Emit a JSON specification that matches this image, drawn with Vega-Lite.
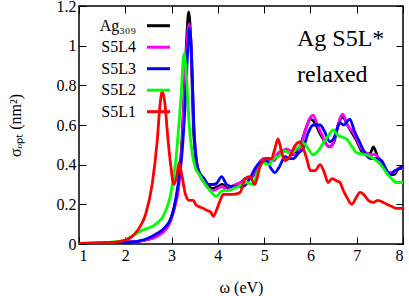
{
  "$schema": "https://vega.github.io/schema/vega-lite/v6.json",
  "width": 324,
  "height": 238,
  "autosize": {"type": "none"},
  "padding": {"left": 79, "top": 6, "right": 6, "bottom": 52},
  "background": "white",
  "config": {
    "view": {"stroke": "black", "strokeWidth": 1.5},
    "font": "Liberation Serif",
    "axis": {
      "grid": false, "domain": false, "ticks": true, "tickSize": -7, "tickColor": "black", "tickWidth": 1,
      "labelFont": "Liberation Serif", "labelFontSize": 16, "labelColor": "black",
      "titleFont": "Liberation Serif", "titleFontSize": 16, "titleFontWeight": "normal", "titleColor": "black"
    },
    "legend": {
      "labelFont": "Liberation Serif", "labelFontSize": 16, "labelColor": "black"
    }
  },
  "layer": [
    {
      "data": {"values": [
        {"c":"Ag309","w":1.0,"s":0.003},{"c":"Ag309","w":1.5,"s":0.005},{"c":"Ag309","w":2.0,"s":0.01},{"c":"Ag309","w":2.3,"s":0.015},{"c":"Ag309","w":2.6,"s":0.03},{"c":"Ag309","w":2.8,"s":0.06},{"c":"Ag309","w":2.95,"s":0.11},{"c":"Ag309","w":3.05,"s":0.18},{"c":"Ag309","w":3.15,"s":0.3},{"c":"Ag309","w":3.22,"s":0.5},{"c":"Ag309","w":3.28,"s":0.8},{"c":"Ag309","w":3.33,"s":1.05},{"c":"Ag309","w":3.37,"s":1.17},{"c":"Ag309","w":3.42,"s":1.0},{"c":"Ag309","w":3.47,"s":0.6},{"c":"Ag309","w":3.53,"s":0.42},{"c":"Ag309","w":3.6,"s":0.36},{"c":"Ag309","w":3.7,"s":0.33},{"c":"Ag309","w":3.8,"s":0.29},{"c":"Ag309","w":3.9,"s":0.28},{"c":"Ag309","w":4.0,"s":0.29},{"c":"Ag309","w":4.1,"s":0.3},{"c":"Ag309","w":4.2,"s":0.28},{"c":"Ag309","w":4.3,"s":0.29},{"c":"Ag309","w":4.4,"s":0.3},{"c":"Ag309","w":4.5,"s":0.31},{"c":"Ag309","w":4.6,"s":0.33},{"c":"Ag309","w":4.7,"s":0.33},{"c":"Ag309","w":4.8,"s":0.36},{"c":"Ag309","w":4.9,"s":0.41},{"c":"Ag309","w":5.0,"s":0.43},{"c":"Ag309","w":5.1,"s":0.43},{"c":"Ag309","w":5.2,"s":0.42},{"c":"Ag309","w":5.3,"s":0.45},{"c":"Ag309","w":5.4,"s":0.47},{"c":"Ag309","w":5.5,"s":0.47},{"c":"Ag309","w":5.6,"s":0.45},{"c":"Ag309","w":5.7,"s":0.46},{"c":"Ag309","w":5.8,"s":0.51},{"c":"Ag309","w":5.9,"s":0.58},{"c":"Ag309","w":6.0,"s":0.63},{"c":"Ag309","w":6.1,"s":0.61},{"c":"Ag309","w":6.2,"s":0.56},{"c":"Ag309","w":6.3,"s":0.52},{"c":"Ag309","w":6.4,"s":0.49},{"c":"Ag309","w":6.5,"s":0.51},{"c":"Ag309","w":6.6,"s":0.6},{"c":"Ag309","w":6.7,"s":0.64},{"c":"Ag309","w":6.8,"s":0.6},{"c":"Ag309","w":6.9,"s":0.56},{"c":"Ag309","w":7.0,"s":0.52},{"c":"Ag309","w":7.1,"s":0.47},{"c":"Ag309","w":7.2,"s":0.45},{"c":"Ag309","w":7.3,"s":0.46},{"c":"Ag309","w":7.36,"s":0.49},{"c":"Ag309","w":7.45,"s":0.44},{"c":"Ag309","w":7.6,"s":0.38},{"c":"Ag309","w":7.7,"s":0.35},{"c":"Ag309","w":7.8,"s":0.35},{"c":"Ag309","w":7.9,"s":0.38},{"c":"Ag309","w":8.0,"s":0.39},

        {"c":"S5L4","w":1.0,"s":0.003},{"c":"S5L4","w":2.0,"s":0.01},{"c":"S5L4","w":2.3,"s":0.015},{"c":"S5L4","w":2.6,"s":0.03},{"c":"S5L4","w":2.8,"s":0.055},{"c":"S5L4","w":2.95,"s":0.1},{"c":"S5L4","w":3.05,"s":0.17},{"c":"S5L4","w":3.15,"s":0.28},{"c":"S5L4","w":3.22,"s":0.47},{"c":"S5L4","w":3.28,"s":0.78},{"c":"S5L4","w":3.33,"s":1.0},{"c":"S5L4","w":3.38,"s":1.11},{"c":"S5L4","w":3.43,"s":0.95},{"c":"S5L4","w":3.48,"s":0.6},{"c":"S5L4","w":3.55,"s":0.4},{"c":"S5L4","w":3.62,"s":0.34},{"c":"S5L4","w":3.7,"s":0.31},{"c":"S5L4","w":3.8,"s":0.28},{"c":"S5L4","w":3.9,"s":0.27},{"c":"S5L4","w":4.0,"s":0.28},{"c":"S5L4","w":4.1,"s":0.29},{"c":"S5L4","w":4.2,"s":0.27},{"c":"S5L4","w":4.3,"s":0.29},{"c":"S5L4","w":4.4,"s":0.3},{"c":"S5L4","w":4.5,"s":0.31},{"c":"S5L4","w":4.6,"s":0.33},{"c":"S5L4","w":4.7,"s":0.33},{"c":"S5L4","w":4.8,"s":0.37},{"c":"S5L4","w":4.9,"s":0.41},{"c":"S5L4","w":5.0,"s":0.43},{"c":"S5L4","w":5.1,"s":0.42},{"c":"S5L4","w":5.2,"s":0.42},{"c":"S5L4","w":5.3,"s":0.46},{"c":"S5L4","w":5.4,"s":0.47},{"c":"S5L4","w":5.5,"s":0.48},{"c":"S5L4","w":5.6,"s":0.46},{"c":"S5L4","w":5.7,"s":0.45},{"c":"S5L4","w":5.8,"s":0.5},{"c":"S5L4","w":5.9,"s":0.58},{"c":"S5L4","w":6.0,"s":0.64},{"c":"S5L4","w":6.06,"s":0.65},{"c":"S5L4","w":6.15,"s":0.6},{"c":"S5L4","w":6.25,"s":0.55},{"c":"S5L4","w":6.35,"s":0.5},{"c":"S5L4","w":6.45,"s":0.49},{"c":"S5L4","w":6.55,"s":0.56},{"c":"S5L4","w":6.65,"s":0.64},{"c":"S5L4","w":6.7,"s":0.655},{"c":"S5L4","w":6.8,"s":0.6},{"c":"S5L4","w":6.9,"s":0.57},{"c":"S5L4","w":7.0,"s":0.53},{"c":"S5L4","w":7.1,"s":0.48},{"c":"S5L4","w":7.2,"s":0.46},{"c":"S5L4","w":7.3,"s":0.45},{"c":"S5L4","w":7.4,"s":0.45},{"c":"S5L4","w":7.5,"s":0.42},{"c":"S5L4","w":7.6,"s":0.38},{"c":"S5L4","w":7.7,"s":0.36},{"c":"S5L4","w":7.8,"s":0.36},{"c":"S5L4","w":7.9,"s":0.38},{"c":"S5L4","w":8.0,"s":0.38},

        {"c":"S5L3","w":1.0,"s":0.002},{"c":"S5L3","w":2.0,"s":0.008},{"c":"S5L3","w":2.3,"s":0.015},{"c":"S5L3","w":2.66,"s":0.05},{"c":"S5L3","w":2.87,"s":0.086},{"c":"S5L3","w":3.02,"s":0.15},{"c":"S5L3","w":3.12,"s":0.27},{"c":"S5L3","w":3.23,"s":0.47},{"c":"S5L3","w":3.3,"s":0.73},{"c":"S5L3","w":3.35,"s":0.98},{"c":"S5L3","w":3.39,"s":1.09},{"c":"S5L3","w":3.44,"s":0.9},{"c":"S5L3","w":3.48,"s":0.6},{"c":"S5L3","w":3.55,"s":0.4},{"c":"S5L3","w":3.6,"s":0.36},{"c":"S5L3","w":3.7,"s":0.33},{"c":"S5L3","w":3.8,"s":0.3},{"c":"S5L3","w":3.9,"s":0.3},{"c":"S5L3","w":3.97,"s":0.305},{"c":"S5L3","w":4.08,"s":0.34},{"c":"S5L3","w":4.19,"s":0.3},{"c":"S5L3","w":4.3,"s":0.29},{"c":"S5L3","w":4.45,"s":0.29},{"c":"S5L3","w":4.55,"s":0.29},{"c":"S5L3","w":4.69,"s":0.33},{"c":"S5L3","w":4.8,"s":0.38},{"c":"S5L3","w":4.91,"s":0.41},{"c":"S5L3","w":5.05,"s":0.42},{"c":"S5L3","w":5.15,"s":0.38},{"c":"S5L3","w":5.23,"s":0.36},{"c":"S5L3","w":5.33,"s":0.39},{"c":"S5L3","w":5.45,"s":0.44},{"c":"S5L3","w":5.55,"s":0.43},{"c":"S5L3","w":5.63,"s":0.43},{"c":"S5L3","w":5.75,"s":0.46},{"c":"S5L3","w":5.84,"s":0.48},{"c":"S5L3","w":5.95,"s":0.56},{"c":"S5L3","w":6.06,"s":0.6},{"c":"S5L3","w":6.21,"s":0.6},{"c":"S5L3","w":6.3,"s":0.57},{"c":"S5L3","w":6.42,"s":0.515},{"c":"S5L3","w":6.5,"s":0.53},{"c":"S5L3","w":6.64,"s":0.61},{"c":"S5L3","w":6.72,"s":0.6},{"c":"S5L3","w":6.85,"s":0.63},{"c":"S5L3","w":6.95,"s":0.57},{"c":"S5L3","w":7.07,"s":0.51},{"c":"S5L3","w":7.2,"s":0.45},{"c":"S5L3","w":7.32,"s":0.43},{"c":"S5L3","w":7.45,"s":0.43},{"c":"S5L3","w":7.54,"s":0.42},{"c":"S5L3","w":7.63,"s":0.38},{"c":"S5L3","w":7.72,"s":0.35},{"c":"S5L3","w":7.82,"s":0.37},{"c":"S5L3","w":7.93,"s":0.38},{"c":"S5L3","w":8.0,"s":0.39},

        {"c":"S5L2","w":1.0,"s":0.003},{"c":"S5L2","w":1.5,"s":0.006},{"c":"S5L2","w":2.0,"s":0.02},{"c":"S5L2","w":2.08,"s":0.03},{"c":"S5L2","w":2.37,"s":0.07},{"c":"S5L2","w":2.5,"s":0.08},{"c":"S5L2","w":2.66,"s":0.1},{"c":"S5L2","w":2.84,"s":0.15},{"c":"S5L2","w":2.98,"s":0.25},{"c":"S5L2","w":3.09,"s":0.42},{"c":"S5L2","w":3.2,"s":0.73},{"c":"S5L2","w":3.27,"s":0.96},{"c":"S5L2","w":3.32,"s":0.85},{"c":"S5L2","w":3.38,"s":0.6},{"c":"S5L2","w":3.45,"s":0.45},{"c":"S5L2","w":3.52,"s":0.38},{"c":"S5L2","w":3.6,"s":0.35},{"c":"S5L2","w":3.7,"s":0.31},{"c":"S5L2","w":3.83,"s":0.27},{"c":"S5L2","w":3.97,"s":0.24},{"c":"S5L2","w":4.05,"s":0.26},{"c":"S5L2","w":4.12,"s":0.27},{"c":"S5L2","w":4.25,"s":0.27},{"c":"S5L2","w":4.33,"s":0.28},{"c":"S5L2","w":4.45,"s":0.29},{"c":"S5L2","w":4.62,"s":0.31},{"c":"S5L2","w":4.76,"s":0.3},{"c":"S5L2","w":4.85,"s":0.36},{"c":"S5L2","w":4.98,"s":0.41},{"c":"S5L2","w":5.1,"s":0.4},{"c":"S5L2","w":5.2,"s":0.43},{"c":"S5L2","w":5.3,"s":0.44},{"c":"S5L2","w":5.45,"s":0.47},{"c":"S5L2","w":5.55,"s":0.46},{"c":"S5L2","w":5.65,"s":0.47},{"c":"S5L2","w":5.75,"s":0.49},{"c":"S5L2","w":5.84,"s":0.51},{"c":"S5L2","w":5.95,"s":0.48},{"c":"S5L2","w":6.06,"s":0.45},{"c":"S5L2","w":6.17,"s":0.47},{"c":"S5L2","w":6.28,"s":0.51},{"c":"S5L2","w":6.4,"s":0.55},{"c":"S5L2","w":6.49,"s":0.575},{"c":"S5L2","w":6.58,"s":0.55},{"c":"S5L2","w":6.67,"s":0.54},{"c":"S5L2","w":6.78,"s":0.53},{"c":"S5L2","w":6.9,"s":0.49},{"c":"S5L2","w":7.0,"s":0.46},{"c":"S5L2","w":7.1,"s":0.455},{"c":"S5L2","w":7.2,"s":0.45},{"c":"S5L2","w":7.3,"s":0.44},{"c":"S5L2","w":7.43,"s":0.42},{"c":"S5L2","w":7.55,"s":0.39},{"c":"S5L2","w":7.64,"s":0.36},{"c":"S5L2","w":7.75,"s":0.33},{"c":"S5L2","w":7.86,"s":0.31},{"c":"S5L2","w":8.0,"s":0.31},

        {"c":"S5L1","w":1.0,"s":0.003},{"c":"S5L1","w":1.5,"s":0.006},{"c":"S5L1","w":1.8,"s":0.01},{"c":"S5L1","w":2.0,"s":0.02},{"c":"S5L1","w":2.1,"s":0.03},{"c":"S5L1","w":2.2,"s":0.05},{"c":"S5L1","w":2.3,"s":0.08},{"c":"S5L1","w":2.44,"s":0.15},{"c":"S5L1","w":2.58,"s":0.3},{"c":"S5L1","w":2.69,"s":0.52},{"c":"S5L1","w":2.75,"s":0.7},{"c":"S5L1","w":2.8,"s":0.77},{"c":"S5L1","w":2.86,"s":0.7},{"c":"S5L1","w":2.91,"s":0.56},{"c":"S5L1","w":2.98,"s":0.4},{"c":"S5L1","w":3.05,"s":0.3},{"c":"S5L1","w":3.11,"s":0.34},{"c":"S5L1","w":3.16,"s":0.41},{"c":"S5L1","w":3.22,"s":0.35},{"c":"S5L1","w":3.3,"s":0.25},{"c":"S5L1","w":3.38,"s":0.22},{"c":"S5L1","w":3.47,"s":0.22},{"c":"S5L1","w":3.52,"s":0.2},{"c":"S5L1","w":3.58,"s":0.19},{"c":"S5L1","w":3.68,"s":0.18},{"c":"S5L1","w":3.76,"s":0.17},{"c":"S5L1","w":3.85,"s":0.16},{"c":"S5L1","w":3.9,"s":0.14},{"c":"S5L1","w":3.97,"s":0.17},{"c":"S5L1","w":4.05,"s":0.22},{"c":"S5L1","w":4.12,"s":0.25},{"c":"S5L1","w":4.22,"s":0.25},{"c":"S5L1","w":4.33,"s":0.25},{"c":"S5L1","w":4.48,"s":0.26},{"c":"S5L1","w":4.59,"s":0.33},{"c":"S5L1","w":4.69,"s":0.34},{"c":"S5L1","w":4.8,"s":0.3},{"c":"S5L1","w":4.91,"s":0.39},{"c":"S5L1","w":5.05,"s":0.43},{"c":"S5L1","w":5.16,"s":0.43},{"c":"S5L1","w":5.22,"s":0.47},{"c":"S5L1","w":5.3,"s":0.53},{"c":"S5L1","w":5.37,"s":0.47},{"c":"S5L1","w":5.45,"s":0.42},{"c":"S5L1","w":5.55,"s":0.44},{"c":"S5L1","w":5.63,"s":0.48},{"c":"S5L1","w":5.72,"s":0.51},{"c":"S5L1","w":5.77,"s":0.515},{"c":"S5L1","w":5.85,"s":0.48},{"c":"S5L1","w":5.92,"s":0.43},{"c":"S5L1","w":6.0,"s":0.37},{"c":"S5L1","w":6.1,"s":0.37},{"c":"S5L1","w":6.21,"s":0.4},{"c":"S5L1","w":6.3,"s":0.36},{"c":"S5L1","w":6.38,"s":0.31},{"c":"S5L1","w":6.47,"s":0.33},{"c":"S5L1","w":6.55,"s":0.32},{"c":"S5L1","w":6.64,"s":0.31},{"c":"S5L1","w":6.71,"s":0.27},{"c":"S5L1","w":6.8,"s":0.23},{"c":"S5L1","w":6.89,"s":0.2},{"c":"S5L1","w":6.98,"s":0.23},{"c":"S5L1","w":7.07,"s":0.26},{"c":"S5L1","w":7.15,"s":0.25},{"c":"S5L1","w":7.25,"s":0.22},{"c":"S5L1","w":7.36,"s":0.21},{"c":"S5L1","w":7.46,"s":0.22},{"c":"S5L1","w":7.57,"s":0.21},{"c":"S5L1","w":7.65,"s":0.2},{"c":"S5L1","w":7.75,"s":0.19},{"c":"S5L1","w":7.85,"s":0.18},{"c":"S5L1","w":7.93,"s":0.18},{"c":"S5L1","w":8.0,"s":0.18}
      ]},
      "mark": {"type": "line", "strokeWidth": 2.8, "interpolate": "monotone", "clip": true},
      "encoding": {
        "x": {"field": "w", "type": "quantitative", "scale": {"domain": [1, 8], "nice": false, "zero": false},
              "axis": {"title": "ω (eV)", "values": [1,2,3,4,5,6,7,8], "labelPadding": 10, "titlePadding": 16}},
        "y": {"field": "s", "type": "quantitative", "scale": {"domain": [0, 1.2], "nice": false},
              "axis": {"title": "σₒₚₜ (nm²)", "values": [0,0.2,0.4,0.6,0.8,1,1.2], "format": "~g", "labelPadding": 10, "titlePadding": 33}},
        "color": {"field": "c", "type": "nominal",
                  "scale": {"domain": ["Ag309","S5L4","S5L3","S5L2","S5L1"], "range": ["#000000","#ff00ff","#0000ff","#00ff00","#ff0000"]},
                  "legend": {"orient": "none", "legendX": 66.5, "legendY": 6.7, "title": null,
                             "symbolType": "stroke", "symbolSize": 100, "symbolStrokeWidth": 3,
                             "rowPadding": 0.5,
                             "labelAlign": "right", "labelOffset": -35.5,
                             "encode": {"symbols": {"update": {"size": {"signal": "529"}}}},
                             "labelExpr": "datum.label == 'Ag309' ? 'Ag₃₀₉' : datum.label"}},
        "order": {"field": "c", "sort": "ascending"}
      }
    },
    {
      "data": {"values": [{"t": ["Ag S5L*", "relaxed"]}]},
      "mark": {"type": "text", "align": "left", "baseline": "alphabetic", "fontSize": 24, "lineHeight": 36, "font": "Liberation Serif", "color": "black"},
      "encoding": {
        "text": {"field": "t"},
        "x": {"datum": 5.71, "type": "quantitative", "axis": {"orient": "top", "labels": false, "title": null, "values": [1,2,3,4,5,6,7,8]}},
        "y": {"datum": 1.0, "type": "quantitative", "axis": {"orient": "right", "labels": false, "title": null, "values": [0,0.2,0.4,0.6,0.8,1,1.2]}}
      }
    }
  ],
  "resolve": {"axis": {"x": "independent", "y": "independent"}}
}
